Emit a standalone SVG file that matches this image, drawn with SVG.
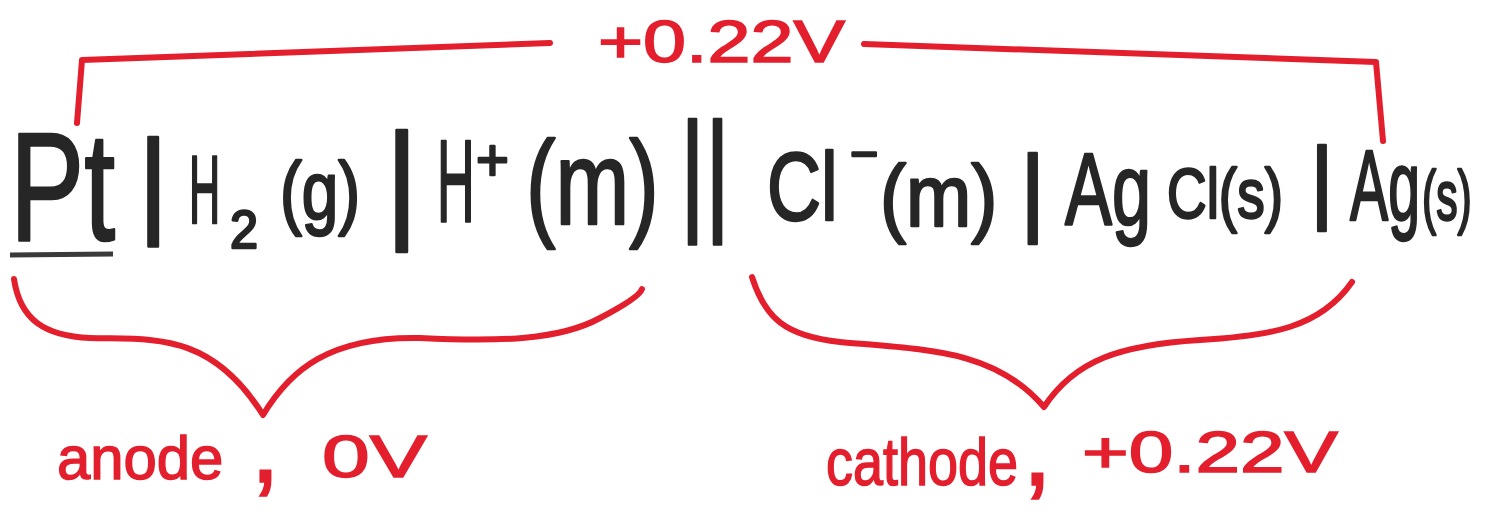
<svg xmlns="http://www.w3.org/2000/svg" width="1486" height="514" viewBox="0 0 1486 514">
<style>
.k{font-family:"Liberation Sans","DejaVu Sans",sans-serif;fill:#262626;stroke:#262626;stroke-width:2.5;stroke-linejoin:round;}
.r{font-family:"Liberation Sans","DejaVu Sans",sans-serif;fill:#e41f2d;stroke:#e41f2d;stroke-width:1.5;}
.rl{fill:none;stroke:#e41f2d;stroke-width:6;stroke-linecap:round;stroke-linejoin:round;}
</style>
<rect width="1486" height="514" fill="#ffffff"/>
<g id="connectors">
<path class="rl" d="M77,123 L82,60 L550,43"/>
<path class="rl" d="M864,44 L1376,62 L1383,141"/>
<path class="rl" d="M14,279 C20,320 45,336 90,338 C150,340 210,330 263,415 C290,370 330,336 420,338 C500,342 560,340 600,318 C625,305 640,295 642,289"/>
<path class="rl" d="M752,277 C765,318 785,336 840,342 C930,350 995,350 1044,407 C1075,360 1120,345 1200,340 C1270,336 1320,328 1352,282"/>
</g>
<g id="pt"><text class="k" font-size="154" transform="translate(10,240) scale(0.722,1)">Pt</text>
<line x1="10" y1="255" x2="113" y2="254" stroke="#3a3a3a" stroke-width="5"/></g>
<g id="bar1"><text class="k" x="138" y="222" font-size="117">|</text></g>
<g id="h2"><text class="k" font-size="96" transform="translate(189,223) scale(0.45,1)">H</text>
<text class="k" font-size="53" transform="translate(230,248) scale(0.95,1)">2</text>
<text class="k" font-size="81" transform="translate(280,219) scale(0.81,1)">(g)</text></g>
<g id="bar2"><text class="k" x="385" y="224" font-size="129">|</text></g>
<g id="hplus"><text class="k" font-size="116" transform="translate(437,221) scale(0.45,1)">H</text>
<text class="k" font-size="60" transform="translate(476,180) scale(0.94,1)">+</text>
<text class="k" font-size="118" transform="translate(526,224) scale(0.75,1)">(m)</text></g>
<g id="saltbridge"><text class="k" font-size="134" transform="translate(680,216) scale(0.72,1)">||</text></g>
<g id="clminus"><text class="k" font-size="96" transform="translate(767,220) scale(0.78,1)">Cl</text>
<text class="k" font-size="50" transform="translate(850,171) scale(0.96,1)">−</text>
<text class="k" font-size="88" transform="translate(880,226) scale(0.89,1)">(m)</text></g>
<g id="bar3"><text class="k" x="1020" y="224" font-size="98">|</text></g>
<g id="agcl"><text class="k" font-size="102" transform="translate(1065,225) scale(0.69,1)">Ag</text>
<text class="k" font-size="70" transform="translate(1167,218) scale(0.785,1)">Cl(s)</text></g>
<g id="bar4"><text class="k" x="1310" y="212" font-size="92">|</text></g>
<g id="ag"><text class="k" font-size="100" transform="translate(1350,220) scale(0.572,1)">Ag</text>
<text class="k" font-size="70" transform="translate(1422,220) scale(0.61,1)">(s)</text></g>
<g id="cell-potential"><text class="r" font-size="60" transform="translate(598,62) scale(1.288,1)">+0.22V</text></g>
<g id="anode-label"><text class="r" font-size="62" transform="translate(57,479) scale(0.965,1)">anode</text>
<text class="r" x="250" y="482" font-size="110">,</text>
<text class="r" font-size="60" transform="translate(322,477) scale(1.43,1)">0V</text></g>
<g id="cathode-label"><text class="r" font-size="66" transform="translate(826,485) scale(0.818,1)">cathode</text>
<text class="r" x="1022" y="485" font-size="110">,</text>
<text class="r" font-size="58" transform="translate(1082,472) scale(1.38,1)">+0.22V</text></g>
</svg>
